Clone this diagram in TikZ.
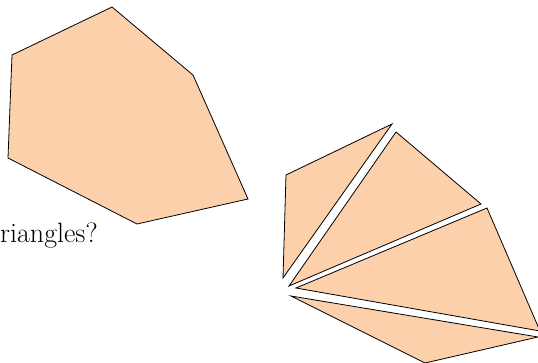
\documentclass[tikz,border=0pt]{standalone}
\usepackage{tikz}
\definecolor{peach}{RGB}{252,208,170}
\tikzset{piece/.style={fill=peach, draw=black, line width=0.8pt}}
\begin{document}
\begin{tikzpicture}[x=1pt,y=-1pt]
	\useasboundingbox (0,0) rectangle (538,363);
	\clip (0,0) rectangle (538,363);
	% the hexagon
	\draw[piece] (112,7) -- (193,75) -- (248,199) -- (137,224) -- (8,158) -- (12,55) -- cycle;
	\node[anchor=base west, inner sep=0pt] (question) at (0,243) {\fontsize{28}{33}\selectfont riangles?};
	% the four pieces
	\draw[piece] (283,278) -- (286,175) -- (392,124) -- cycle;
	\draw[piece] (289,286) -- (396,132) -- (481,204) -- cycle;
	\draw[piece] (296,288) -- (487,208) -- (540,331) -- cycle;
	\draw[piece] (291,296) -- (538,337) -- (425,363) -- cycle;
\end{tikzpicture}
\end{document}
